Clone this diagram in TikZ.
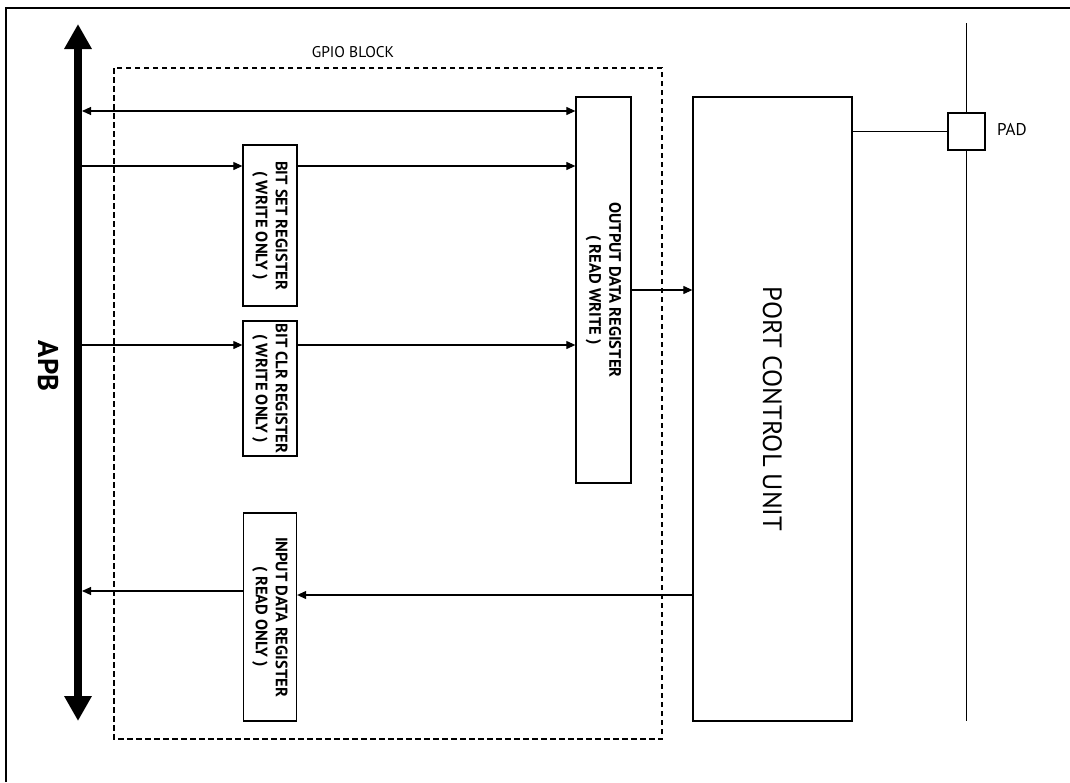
\documentclass[tikz,border=0pt]{standalone}
\usepackage{fontspec}
\setmainfont{PT Sans}
\usetikzlibrary{arrows.meta}
\begin{document}
\begin{tikzpicture}[x=1pt,y=-1pt,
  box/.style={draw, line width=1.3pt, inner sep=0pt, rectangle},
  regtxt/.style={rotate=-90, align=center, inner sep=0pt, font=\bfseries\fontsize{16.5}{20}\selectfont},
  arr/.style={line width=1.1pt, -{Triangle[length=9pt,width=8pt]}},
  biarr/.style={line width=1.1pt, {Triangle[length=9pt,width=8pt]}-{Triangle[length=9pt,width=8pt]}},
  wire/.style={line width=1.1pt},
  bus/.style={line width=8pt, {Triangle[length=25pt,width=26pt]}-{Triangle[length=25pt,width=26pt]}},
  gpio/.style={draw, line width=1.1pt, dash pattern=on 5.5pt off 3.5pt}
]
\useasboundingbox (0,0) rectangle (1070,782);
% outer frame
\draw[line width=1.5pt] (6,782) -- (6,8) -- (1070,8);

% GPIO block
\draw[gpio] (114,68) rectangle (662,739);
\node[font=\fontsize{15.5}{15.5}\selectfont, anchor=base] (gpiolbl) at (353,57) {GPIO BLOCK};

% APB bus
\coordinate (apbtop) at (78,24);
\coordinate (apbbot) at (78,721);
\draw[bus] (apbtop) -- (apbbot);
\node[rotate=-90, inner sep=0pt, font=\bfseries\fontsize{28.5}{28.5}\selectfont] (apblbl) at (48,366) {APB};

% registers
\node[box, minimum width=54pt, minimum height=161pt] (bs) at (270,225.5) {};
\node[regtxt] at (bs) {BIT SET REGISTER\\( WRITE ONLY )};
\node[box, minimum width=54pt, minimum height=135pt] (bc) at (270,388.5) {};
\node[regtxt] at (bc) {BIT CLR REGISTER\\( WRITE ONLY )};
\node[box, minimum width=53pt, minimum height=208pt] (idr) at (270,617) {};
\node[regtxt] at (idr) {INPUT DATA REGISTER\\( READ ONLY )};
\node[box, minimum width=55pt, minimum height=386pt] (odr) at (603.5,290) {};
\node[regtxt] at (odr) {OUTPUT DATA REGISTER\\( READ WRITE )};

% port control unit
\node[box, minimum width=159pt, minimum height=624pt] (pcu) at (772.5,409) {};
\node[rotate=-90, inner sep=0pt, font=\fontsize{26.5}{26.5}\selectfont] at (pcu) {PORT CONTROL UNIT};

% pad
\node[box, minimum width=37pt, minimum height=37pt] (pad) at (966.5,131.5) {};
\node[font=\fontsize{17}{17}\selectfont, anchor=west, inner sep=0pt] (padlbl) at (997,130) {PAD};
\coordinate (padtop) at (966.5,23);
\coordinate (padbot) at (966.5,721);
\draw[wire] (padtop) -- (pad.north);
\draw[wire] (pad.south) -- (padbot);
\draw[wire] (pcu.east |- pad.west) -- (pad.west);

% bus tap points
\coordinate (b1) at (82,111);
\coordinate (b2) at (82,166);
\coordinate (b3) at (82,345);
\coordinate (b4) at (82,591);
\coordinate (p1) at (693,290);
\coordinate (p2) at (693,595);

% connectors
\draw[biarr] (b1) -- (odr.west |- b1);
\draw[arr] (b2) -- (bs.west |- b2);
\draw[arr] (bs.east |- b2) -- (odr.west |- b2);
\draw[arr] (b3) -- (bc.west |- b3);
\draw[arr] (bc.east |- b3) -- (odr.west |- b3);
\draw[arr] (odr.east |- p1) -- (pcu.west |- p1);
\draw[arr] (pcu.west |- p2) -- (idr.east |- p2);
\draw[arr] (idr.west |- b4) -- (b4);
\end{tikzpicture}
\end{document}
